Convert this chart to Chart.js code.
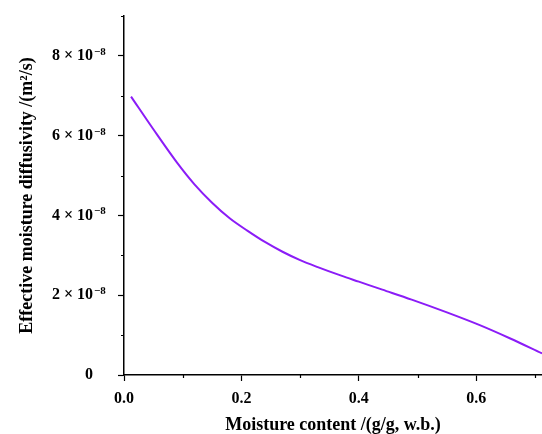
<!DOCTYPE html>
<html>
<head>
<meta charset="utf-8">
<script src="https://cdn.jsdelivr.net/npm/chart.js@4/dist/chart.umd.min.js"></script>
<style>
html,body{margin:0;padding:0;background:#fff;}
#wrap{width:542px;height:434px;position:relative;}
</style>
</head>
<body>
<div id="wrap"><canvas id="c" width="542" height="434"></canvas></div>
<script>
// Moisture content (g/g, w.b.)
const moisture = [0.012, 0.05, 0.09, 0.12, 0.15, 0.18, 0.21, 0.24, 0.27, 0.30, 0.33, 0.37, 0.40, 0.44, 0.49, 0.55, 0.606, 0.658, 0.712];
// Effective moisture diffusivity (m^2/s)
const diffusivity = [6.98e-8, 6.16e-8, 5.33e-8, 4.78e-8, 4.32e-8, 3.93e-8, 3.62e-8, 3.335e-8, 3.09e-8, 2.88e-8, 2.705e-8, 2.49e-8, 2.34e-8, 2.14e-8, 1.89e-8, 1.57e-8, 1.25e-8, 0.915e-8, 0.54e-8];
const xTickValues = [0, 0.2, 0.4, 0.6];
const xTickLabels = ['0.0', '0.2', '0.4', '0.6'];
const yTickValues = [0, 2e-8, 4e-8, 6e-8, 8e-8];
const yTickLabels = ['0', '2 \u00d7 10', '4 \u00d7 10', '6 \u00d7 10', '8 \u00d7 10'];
const yTickExponents = ['', '\u22128', '\u22128', '\u22128', '\u22128'];
const xMinorTicks = [0.1, 0.3, 0.5, 0.7];
const yMinorTicks = [1e-8, 3e-8, 5e-8, 7e-8, 9e-8];

const FONT = "'Liberation Serif', 'Times New Roman', serif";
const Y_TICK_LEN = 6, Y_TICK_PAD = 25;

const extrasPlugin = {
  id: 'extras',
  afterDraw(chart) {
    const ctx = chart.ctx;
    const xs = chart.scales.x, ys = chart.scales.y;
    ctx.save();
    // minor ticks
    ctx.strokeStyle = '#000';
    ctx.lineWidth = 1.2;
    ctx.beginPath();
    xMinorTicks.forEach(v => {
      const px = Math.round(xs.getPixelForValue(v)) + 0.5;
      ctx.moveTo(px, xs.top);
      ctx.lineTo(px, xs.top + 3);
    });
    yMinorTicks.forEach(v => {
      const py = Math.round(ys.getPixelForValue(v)) + 0.5;
      ctx.moveTo(ys.right, py);
      ctx.lineTo(ys.right - 3, py);
    });
    ctx.stroke();
    // superscript exponents of the y tick labels
    ctx.fillStyle = '#000';
    ctx.font = 'bold 11px ' + FONT;
    ctx.textAlign = 'left';
    ctx.textBaseline = 'middle';
    yTickValues.forEach((v, i) => {
      if (!yTickExponents[i]) return;
      const py = ys.getPixelForValue(v);
      const lx = ys.right - Y_TICK_LEN - Y_TICK_PAD + 1;
      ctx.fillText(yTickExponents[i], lx, py - 4);
    });
    ctx.restore();
  }
};

new Chart(document.getElementById('c'), {
  type: 'line',
  data: {
    datasets: [{
      data: moisture.map((m, i) => ({x: m, y: diffusivity[i]})),
      borderColor: '#8B1CF7',
      borderWidth: 2,
      pointRadius: 0,
      fill: false,
      cubicInterpolationMode: 'monotone'
    }]
  },
  options: {
    responsive: false,
    animation: false,
    layout: {padding: {left: 0, right: 0, top: 0, bottom: 0}},
    plugins: {legend: {display: false}, tooltip: {enabled: false}},
    scales: {
      x: {
        type: 'linear',
        min: 0,
        max: 0.712,
        afterFit(s) { s.height = 59; },
        afterBuildTicks(s) { s.ticks = xTickValues.map(v => ({value: v})); },
        ticks: {
          includeBounds: false,
          autoSkip: false,
          maxRotation: 0,
          padding: 8,
          color: '#000',
          font: {family: FONT, size: 16, weight: 'bold'},
          callback: (v) => { const i = xTickValues.indexOf(v); return i >= 0 ? xTickLabels[i] : ''; }
        },
        grid: {drawOnChartArea: false, drawTicks: true, tickLength: 6, color: '#000', tickWidth: 1.2},
        border: {display: true, color: '#000', width: 1.5},
        title: {
          display: true,
          text: 'Moisture content /(g/g, w.b.)',
          color: '#000',
          font: {family: FONT, size: 18, weight: 'bold', lineHeight: 1},
          padding: {top: 0, bottom: 0}
        }
      },
      y: {
        type: 'linear',
        min: 0,
        max: 9e-8,
        afterFit(s) { s.width = 124; s.paddingTop = 16; s.paddingBottom = 0; },
        afterBuildTicks(s) { s.ticks = yTickValues.map(v => ({value: v})); },
        ticks: {
          includeBounds: false,
          autoSkip: false,
          padding: Y_TICK_PAD,
          color: '#000',
          font: {family: FONT, size: 16, weight: 'bold'},
          callback: (v) => { const i = yTickValues.indexOf(v); return i >= 0 ? yTickLabels[i] : ''; }
        },
        grid: {drawOnChartArea: false, drawTicks: true, tickLength: Y_TICK_LEN, color: '#000', tickWidth: 1.2},
        border: {display: true, color: '#000', width: 1.5},
        title: {
          display: true,
          text: 'Effective moisture diffusivity /(m\u00b2/s)',
          color: '#000',
          font: {family: FONT, size: 18, weight: 'bold'},
          padding: {top: 17, bottom: 0}
        }
      }
    }
  },
  plugins: [extrasPlugin]
});
</script>
</body>
</html>
